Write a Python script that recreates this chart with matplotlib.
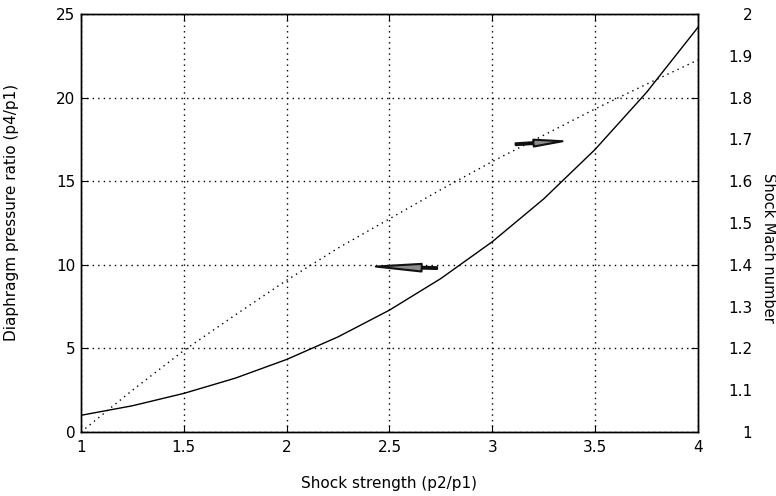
import matplotlib
matplotlib.use("Agg")
import matplotlib.pyplot as plt

# shock strength p2/p1
p21 = [1.0, 1.25, 1.5, 1.75, 2.0, 2.25, 2.5, 2.75, 3.0, 3.25, 3.5, 3.75, 4.0]
# diaphragm pressure ratio p4/p1 (left axis)
p41 = [1.0, 1.57, 2.31, 3.22, 4.34, 5.69, 7.29, 9.18, 11.38, 13.94, 16.90, 20.31, 24.2]
# shock Mach number (right axis)
mach = [1.0, 1.10, 1.195, 1.28, 1.363, 1.44, 1.51, 1.58, 1.647, 1.71, 1.773, 1.832, 1.89]

xticks = [1, 1.5, 2, 2.5, 3, 3.5, 4]
yticks = [0, 5, 10, 15, 20, 25]
mticks = [1, 1.1, 1.2, 1.3, 1.4, 1.5, 1.6, 1.7, 1.8, 1.9, 2]
mlabels = ["1", "1.1", "1.2", "1.3", "1.4", "1.5", "1.6", "1.7", "1.8", "1.9", "2"]

plt.rcParams["font.family"] = "DejaVu Sans"
plt.rcParams["font.size"] = 11

fig = plt.figure(figsize=(7.76, 4.96), dpi=100)
ax = fig.add_axes([0.1044, 0.129, 0.795, 0.8428])
ax2 = ax.twinx()

ax.plot(p21, p41, "-", color="black", lw=1.0)
ax2.plot(p21, mach, color="black", lw=1.0, ls=(0, (1, 3)))

ax.set_xlim(1, 4)
ax.set_ylim(0, 25)
ax2.set_ylim(1, 2)
ax.set_xticks(xticks)
ax.set_xticklabels(["1", "1.5", "2", "2.5", "3", "3.5", "4"])
ax.set_yticks(yticks)
ax.grid(True, color="black", lw=1.0, ls=(0, (1, 3)))
ax.tick_params(direction="in", length=5, top=True, right=True, pad=4, colors="black")
ax.tick_params(axis="x", pad=6)

ax2.set_yticks(mticks)
ax2.set_yticklabels(mlabels, ha="right")
ax2.tick_params(axis="y", length=0, pad=39)

for a in (ax, ax2):
    for s in a.spines.values():
        s.set_linewidth(1.0)
        s.set_color("black")

ax.set_xlabel("Shock strength (p2/p1)", labelpad=15)
fig.text(12 / 776, 1 - 212 / 496, "Diaphragm pressure ratio (p4/p1)",
         rotation=90, ha="center", va="center")
fig.text(761 / 776, 1 - 248 / 496, "Shock Mach number", rotation=270,
         ha="left", va="center", fontsize=10.5)

# arrows showing which axis each curve is read against
arrow = dict(arrowstyle="simple,head_length=3.0,head_width=0.5,tail_width=0.12",
             fc="#8c8c8c", ec="#111111", lw=1.5)
ax.annotate("", xy=(2.42, 9.9), xytext=(2.745, 9.8), arrowprops=arrow)
ax.annotate("", xy=(3.355, 17.4), xytext=(3.10, 17.2),
            arrowprops=dict(arrow, arrowstyle="simple,head_length=1.9,head_width=0.45,tail_width=0.12"))

fig.savefig("out.png", dpi=100)
